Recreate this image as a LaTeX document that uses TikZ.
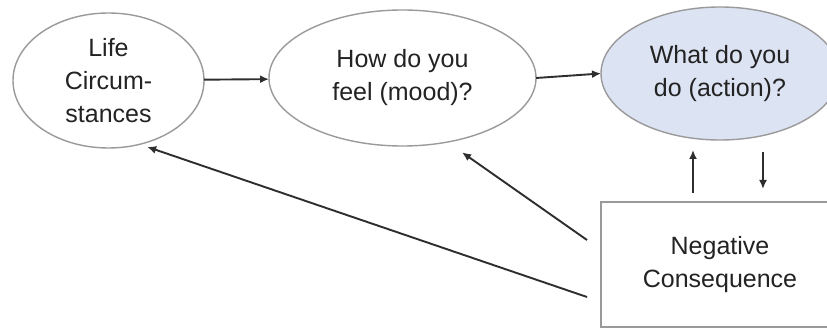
\documentclass[tikz,border=0pt]{standalone}
\usepackage{fontspec}
\setmainfont{Liberation Sans}
\usetikzlibrary{shapes.geometric,arrows.meta}
\definecolor{edgegray}{HTML}{9A9A9A}
\definecolor{linedark}{HTML}{2E2E2E}
\definecolor{textdark}{HTML}{232323}
\definecolor{actionblue}{HTML}{DCE3F2}
\tikzset{
  bubble/.style={ellipse, draw=edgegray, line width=1.4pt, inner sep=0pt, outer sep=0pt,
    align=center, text=textdark, font=\fontsize{25}{33}\selectfont},
  outcome/.style={rectangle, draw=edgegray, line width=1.8pt, inner sep=0pt, outer sep=0pt,
    align=center, text=textdark, font=\fontsize{25}{33}\selectfont},
  flow/.style={draw=linedark, line width=1.9pt, -{Latex[length=9pt,width=8pt]}}
}
\begin{document}
\begin{tikzpicture}[x=1pt,y=-1pt]
  \clip (0,0) rectangle (827,331);
  \fill[white] (0,0) rectangle (827,331);

  \node[bubble, minimum width=191pt, minimum height=135pt] (life) at (108.5,80.5)
    {Life\\Circum-\\stances};
  \node[bubble, minimum width=267pt, minimum height=136pt] (mood) at (402.5,78)
    {How do you\\feel (mood)?};
  \node[bubble, fill=actionblue, minimum width=238pt, minimum height=133pt] (action) at (720,73.5)
    {What do you\\do (action)?};
  \node[outcome, minimum width=238pt, minimum height=125pt] (neg) at (720,264.5)
    {Negative\\Consequence};

  % forward chain
  \draw[flow] (life) -- (mood);
  \draw[flow] (mood.east) -- (action.west);

  % action <-> consequence
  \draw[flow, shorten <=9pt, shorten >=10pt]
    ([xshift=-27pt]neg.north) -- ([xshift=-27pt]neg.north |- action.south);
  \draw[flow, shorten <=12pt, shorten >=13pt]
    ([xshift=43pt]neg.north |- action.south) -- ([xshift=43pt]neg.north);

  % feedback from the consequence
  \draw[flow, shorten >=18pt] ([shift={(-14pt,24.5pt)}]neg.west) -- (mood.-55.6);
  \draw[flow, shorten >=8pt] ([shift={(-14pt,-32.5pt)}]neg.west) -- (life.-64.9);
\end{tikzpicture}
\end{document}
